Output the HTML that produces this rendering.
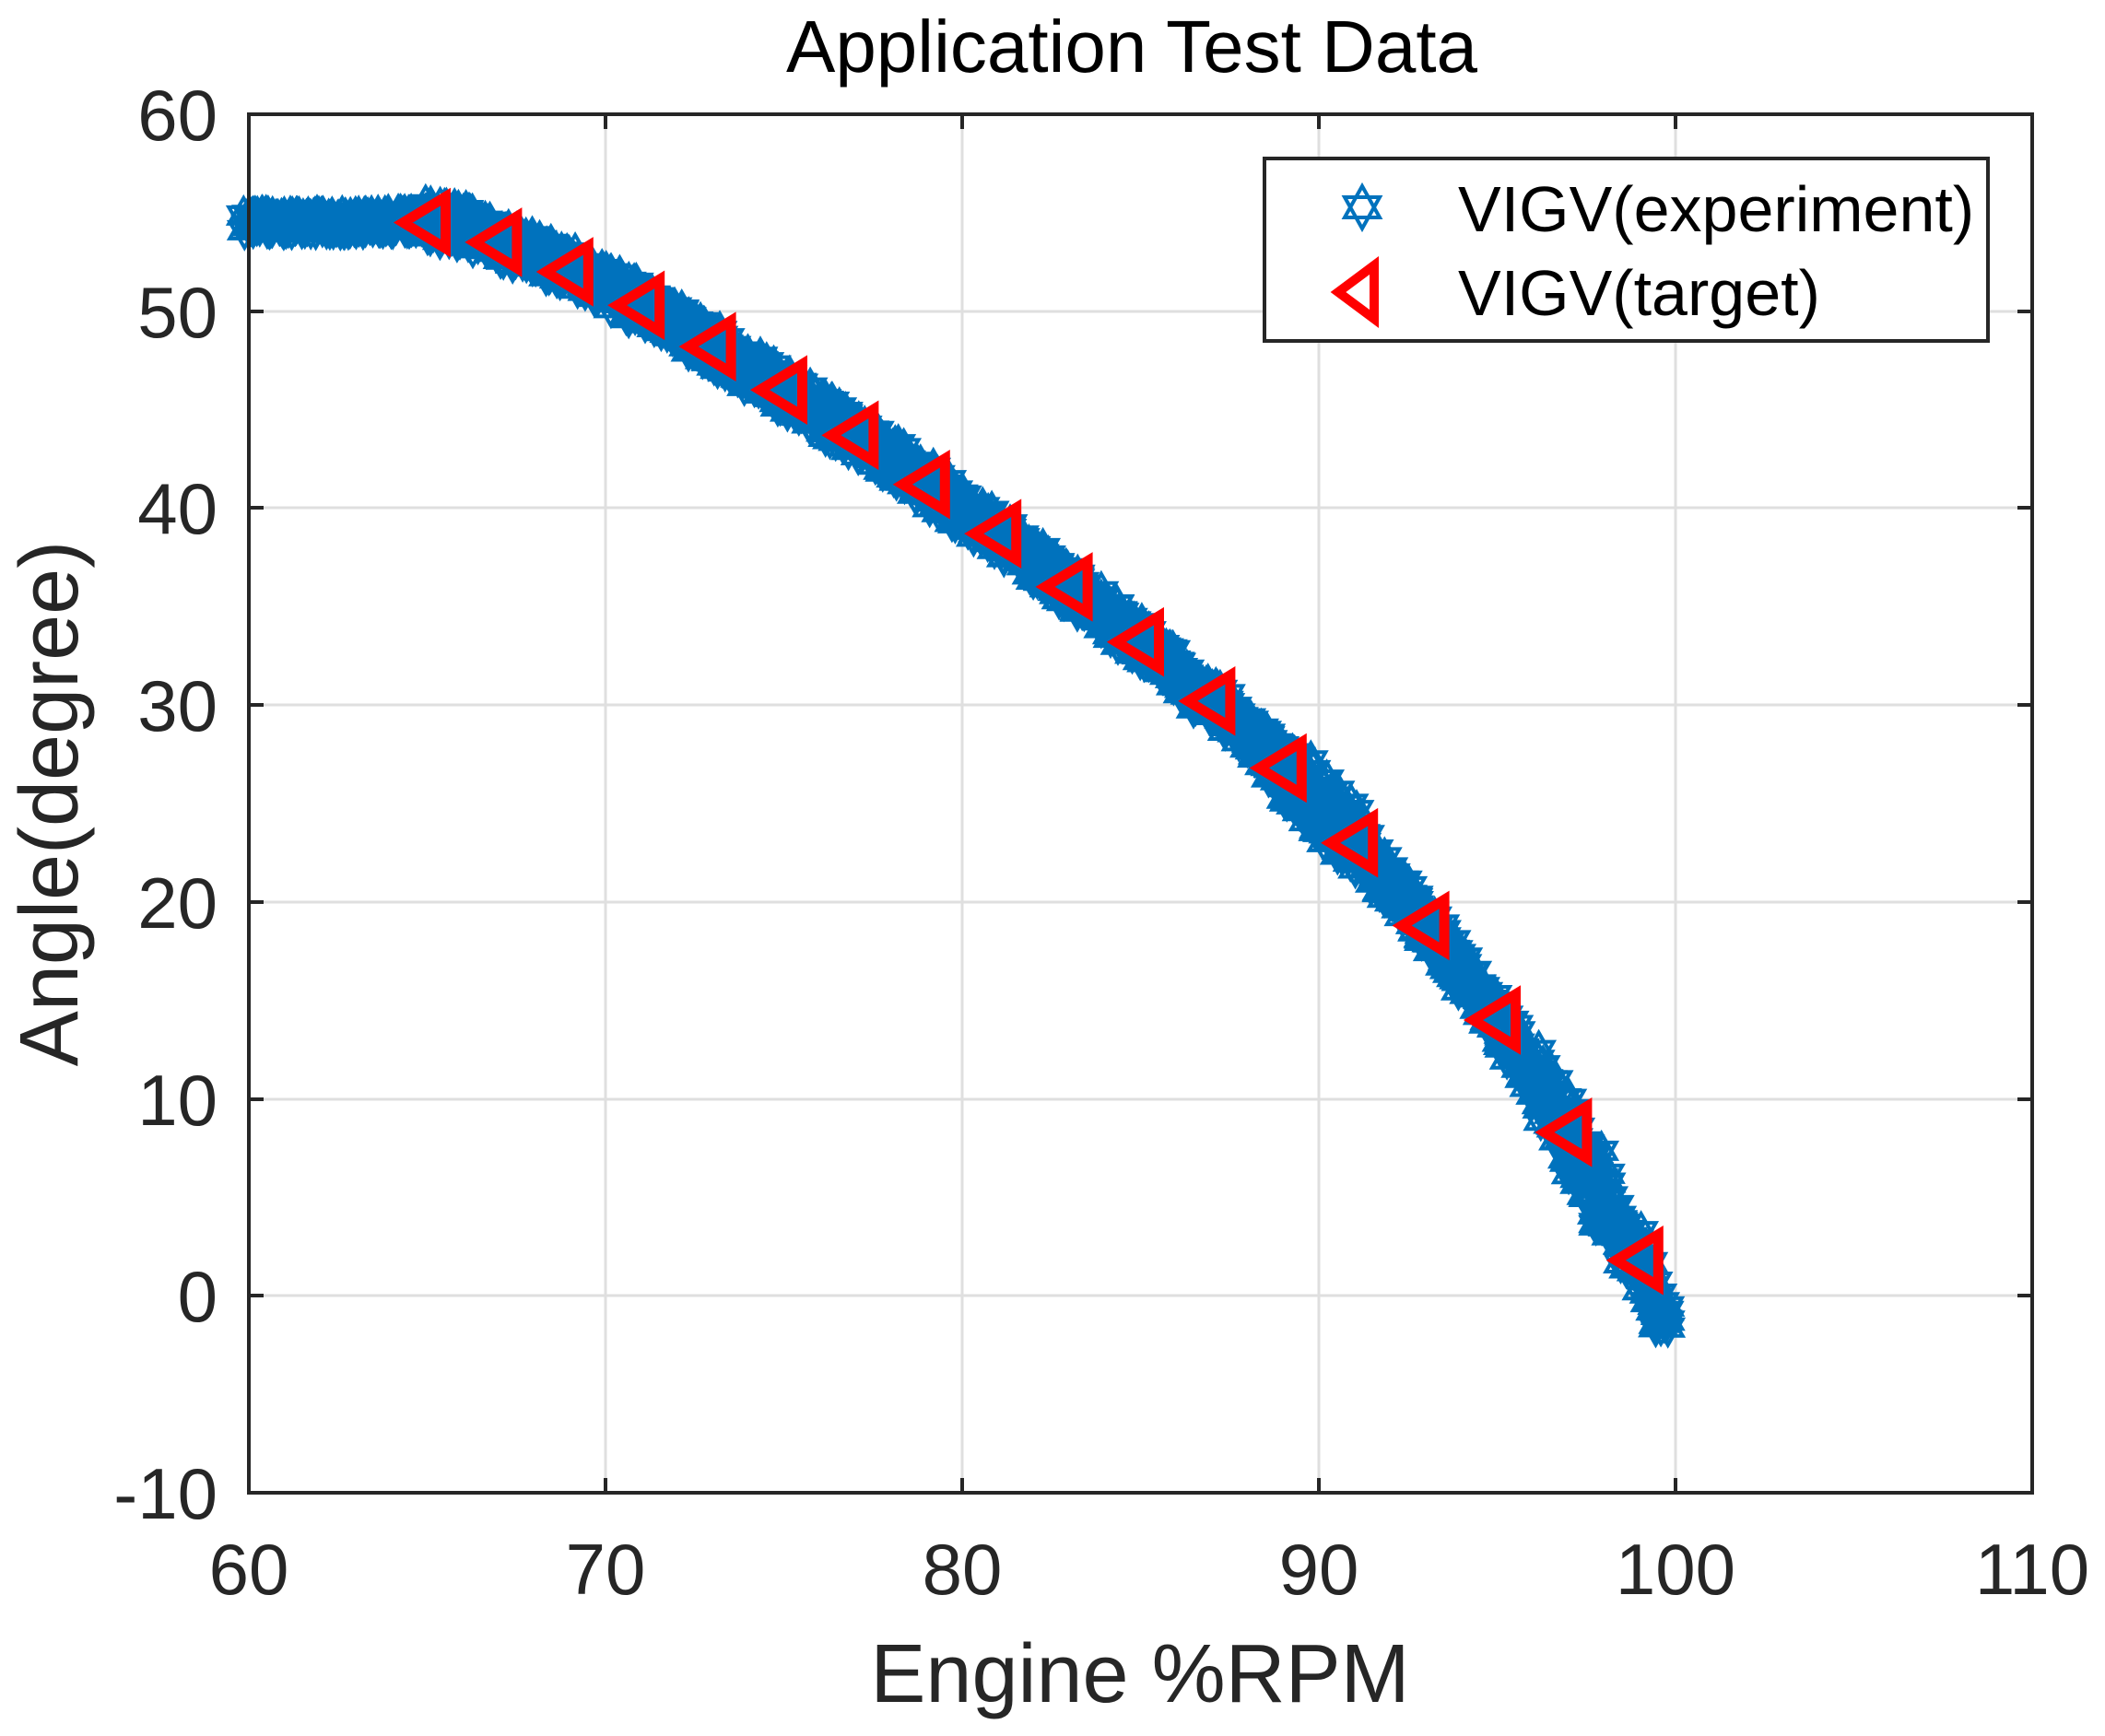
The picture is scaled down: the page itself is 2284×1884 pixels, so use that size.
<!DOCTYPE html>
<html><head><meta charset="utf-8"><style>
html,body{margin:0;padding:0;background:#fff;}
svg{display:block;}
text{font-family:"Liberation Sans",Arial,sans-serif;fill:#262626;}
</style></head><body>
<svg id="s" width="2284" height="1884" viewBox="0 0 2284 1884" xmlns="http://www.w3.org/2000/svg">
<rect width="2284" height="1884" fill="#fff"/>
<g stroke="#dfdfdf" stroke-width="3">
<line x1="657" y1="124" x2="657" y2="1620"/>
<line x1="1044" y1="124" x2="1044" y2="1620"/>
<line x1="1431" y1="124" x2="1431" y2="1620"/>
<line x1="1818" y1="124" x2="1818" y2="1620"/>
<line x1="270" y1="338" x2="2205" y2="338"/>
<line x1="270" y1="551" x2="2205" y2="551"/>
<line x1="270" y1="765" x2="2205" y2="765"/>
<line x1="270" y1="979" x2="2205" y2="979"/>
<line x1="270" y1="1193" x2="2205" y2="1193"/>
<line x1="270" y1="1406" x2="2205" y2="1406"/>
</g>
<g id="stars" fill="none" stroke="#0072BD" stroke-width="4"></g>
<g id="tris" fill="none" stroke="#ff0000" stroke-width="11"></g>
<g stroke="#262626" stroke-width="4" fill="none">
<rect x="270" y="124" width="1935" height="1496"/>
<path d="M657 124v16M1044 124v16M1431 124v16M1818 124v16M657 1620v-16M1044 1620v-16M1431 1620v-16M1818 1620v-16M270 338h16M270 551h16M270 765h16M270 979h16M270 1193h16M270 1406h16M2205 338h-16M2205 551h-16M2205 765h-16M2205 979h-16M2205 1193h-16M2205 1406h-16"/>
</g>
<g font-size="78" text-anchor="end">
<text x="236" y="152">60</text><text x="236" y="366">50</text><text x="236" y="579">40</text>
<text x="236" y="793">30</text><text x="236" y="1007">20</text><text x="236" y="1221">10</text>
<text x="236" y="1434">0</text><text x="236" y="1648">-10</text>
</g>
<g font-size="78" text-anchor="middle">
<text x="270" y="1730">60</text><text x="657" y="1730">70</text><text x="1044" y="1730">80</text>
<text x="1431" y="1730">90</text><text x="1818" y="1730">100</text><text x="2205" y="1730">110</text>
</g>
<text x="1237" y="1847" font-size="90" text-anchor="middle">Engine %RPM</text>
<text transform="translate(84,872) rotate(-90)" font-size="90" text-anchor="middle">Angle(degree)</text>
<text x="1228" y="78" font-size="80" text-anchor="middle" style="fill:#000">Application Test Data</text>
<rect x="1372" y="172" width="785" height="198" fill="#fff" stroke="#262626" stroke-width="4"/>
<path d="M1478 202 L1497 236 L1459 236 Z M1478 248 L1497 214 L1459 214 Z" fill="none" stroke="#0072BD" stroke-width="4"/>
<path d="M1452 317 L1491 288 L1491 346 Z" fill="none" stroke="#ff0000" stroke-width="10"/>
<text x="1582" y="251" font-size="70" style="fill:#000">VIGV(experiment)</text>
<text x="1582" y="342" font-size="70" style="fill:#000">VIGV(target)</text>
</svg>
<script>
(function(){
var NS="http://www.w3.org/2000/svg";
function X(x){return 270+(x-60)*38.7;}
function Y(y){return 124+(60-y)*21.37;}
var P=[[60,54.5],[63,54.5],[65,54.6],[66,54.3],[67,53.6],[69,52.2],[71,50.3],[73,48.2],[75,46],[77,43.7],[79,41.2],[81,38.7],[83,36],[85,33.2],[87,30.2],[89,26.8],[91,23],[93,18.8],[95,14],[97,8.0],[99,1.6],[99.8,-1.2]];
function f(x){for(var i=0;i<P.length-1;i++){if(x<=P[i+1][0]){var t=(x-P[i][0])/(P[i+1][0]-P[i][0]);return P[i][1]+t*(P[i+1][1]-P[i][1]);}}return P[P.length-1][1];}
var seed=12345;function r(){seed=(seed*16807)%2147483647;return seed/2147483647;}
var d="";
function star(cx,cy){var s=19;d+="M"+cx+" "+(cy-s)+"L"+(cx+16)+" "+(cy+9)+"L"+(cx-16)+" "+(cy+9)+"Z M"+cx+" "+(cy+s)+"L"+(cx+16)+" "+(cy-9)+"L"+(cx-16)+" "+(cy-9)+"Z ";}
for(var x=60.0;x<=99.8;x+=0.02){
 var j=0.9; if(x<65)j=0.4; if(x>89&&x<91)j=1.6; if(x>96&&x<98)j=1.9; if(x>98.5)j=1.3;
 var y=f(x)+(r()*2-1)*j; var xx=x+(r()*2-1)*0.18;
 star(+X(xx).toFixed(1),+Y(y).toFixed(1));
}
var p=document.createElementNS(NS,"path");p.setAttribute("d",d);document.getElementById("stars").appendChild(p);
var T=[[65,54.5],[67,53.5],[69,52],[71,50.3],[73,48.2],[75,46],[77,43.7],[79,41.2],[81,38.7],[83,36],[85,33.2],[87,30.2],[89,26.8],[91,23],[93,18.8],[95,14],[97,8.3],[99,1.8]];
var td="";T.forEach(function(q){var cx=X(q[0]),cy=Y(q[1]);td+="M"+(cx-26)+" "+cy+"L"+(cx+20)+" "+(cy-28)+"L"+(cx+20)+" "+(cy+28)+"Z ";});
var tp=document.createElementNS(NS,"path");tp.setAttribute("d",td);document.getElementById("tris").appendChild(tp);
})();
</script>
</body></html>
